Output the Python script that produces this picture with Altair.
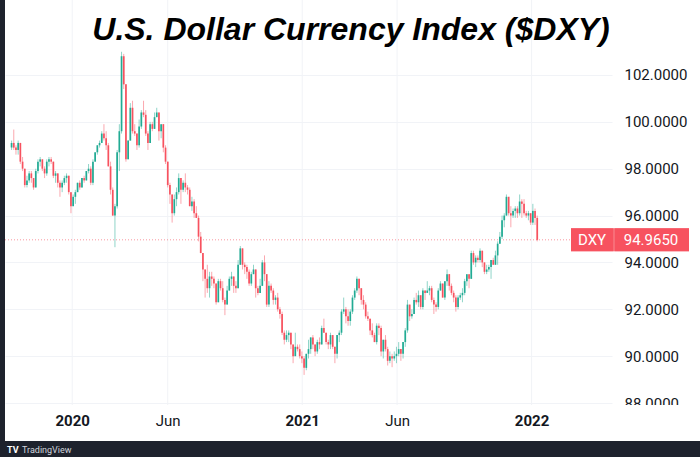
import altair as alt
import pandas as pd

# ---- DXY candles (two bars per week: Mon-Wed, Thu-Fri) ----
OPEN_2019 = [98.9, 99.1, 98.9, 98.8, 99.1, 98.3, 98.0, 97.3, 97.5, 97.8,
             97.6, 97.2, 97.9, 98.3, 98.4, 98.0, 97.8, 98.3, 98.4, 98.3,
             97.7, 97.8, 97.4, 97.2, 97.4, 97.6, 97.7, 97.0]
HIGH_2019 = [99.2, 99.67, 99.0, 99.2, 99.1, 98.5, 98.0, 97.7, 97.9, 97.9,
             97.6, 98.0, 98.4, 98.5, 98.4, 98.1, 98.4, 98.5, 98.5, 98.3,
             97.9, 97.8, 97.5, 97.5, 97.7, 97.8, 97.7, 97.0]
LOW_2019 = [98.8, 98.8, 98.6, 98.6, 98.2, 97.9, 97.2, 97.2, 97.4, 97.4,
            97.1, 97.2, 97.8, 98.1, 97.9, 97.6, 97.7, 98.1, 98.2, 97.6,
            97.4, 97.2, 96.8, 97.0, 97.3, 97.4, 96.9, 96.1]
CLOSE_2019 = [99.1, 98.9, 98.8, 99.1, 98.3, 98.0, 97.3, 97.5, 97.8, 97.6,
              97.2, 97.9, 98.3, 98.4, 98.0, 97.8, 98.3, 98.4, 98.3, 97.7,
              97.8, 97.4, 97.2, 97.4, 97.6, 97.7, 97.0, 96.4]

OPEN_2020 = [96.4, 96.8, 97.0, 97.4, 97.2, 97.6, 97.5, 97.9, 98.0, 97.4,
             98.3, 98.7, 99.0, 99.1, 99.5, 99.3, 99.0, 98.1, 97.1, 96.0,
             96.4, 98.7, 99.6, 102.8, 101.6, 98.4, 99.2, 100.6, 99.6, 99.5,
             99.0, 99.8, 100.4, 100.3, 99.5, 99.1, 99.9, 99.7, 100.2, 100.4,
             99.6, 99.9, 98.9, 98.3, 97.3, 96.9, 96.1, 96.7, 97.0, 97.6,
             97.1, 97.4, 97.2, 97.1, 96.4, 96.6, 96.1, 95.9, 95.1, 94.4,
             93.7, 93.3, 92.9, 93.4, 93.3, 93.1, 92.3, 93.2, 92.9, 92.4,
             92.2, 92.8, 93.3, 93.4, 93.0, 92.9, 93.9, 94.6, 93.9, 93.8,
             93.6, 93.1, 93.5, 93.7, 92.9, 92.7, 93.0, 94.0, 93.5, 92.2,
             93.0, 92.8, 92.4, 92.5, 92.0, 91.8, 91.0, 90.7, 90.9, 91.0,
             90.5, 90.0, 90.4, 90.3, 90.0]
HIGH_2020 = [96.9, 97.1, 97.4, 97.5, 97.6, 97.7, 97.9, 98.2, 98.1, 98.4,
             98.7, 99.0, 99.2, 99.6, 99.9, 99.6, 99.1, 98.3, 97.2, 96.5,
             98.8, 99.9, 102.99, 102.9, 101.6, 99.2, 100.8, 100.9, 99.9, 99.5,
             100.1, 100.5, 100.9, 100.5, 99.6, 100.0, 100.0, 100.4, 100.6, 100.4,
             99.9, 99.9, 99.0, 98.3, 97.4, 96.9, 96.9, 97.2, 97.8, 97.6,
             97.5, 97.8, 97.3, 97.2, 96.8, 96.7, 96.4, 96.0, 95.3, 94.4,
             93.7, 93.9, 93.6, 93.6, 93.4, 93.1, 93.3, 93.3, 93.2, 92.5,
             93.0, 93.4, 93.6, 93.4, 93.2, 94.1, 94.7, 94.6, 94.0, 93.9,
             93.7, 93.6, 93.9, 93.7, 93.0, 93.3, 94.1, 94.3, 93.5, 93.2,
             93.1, 92.9, 92.6, 92.7, 92.1, 91.9, 91.1, 91.1, 91.1, 91.0,
             90.5, 91.0, 90.5, 90.5, 90.2]
LOW_2020 = [96.4, 96.5, 97.0, 97.1, 97.2, 97.4, 97.5, 97.8, 97.3, 97.3,
            98.3, 98.6, 98.9, 99.1, 99.2, 98.8, 98.1, 96.9, 96.0, 94.65,
            96.3, 97.9, 99.5, 101.4, 98.3, 98.4, 99.2, 99.5, 99.4, 98.8,
            98.9, 99.7, 100.2, 99.4, 98.8, 99.1, 99.6, 99.7, 100.2, 99.2,
            99.3, 98.7, 98.2, 97.2, 96.5, 95.7, 96.0, 96.4, 96.9, 96.5,
            97.0, 97.0, 96.9, 96.4, 96.2, 95.9, 95.9, 94.9, 94.4, 93.2,
            92.5, 92.7, 92.5, 93.0, 92.9, 92.2, 92.3, 92.8, 92.3, 91.75,
            92.2, 92.8, 93.0, 92.7, 92.7, 92.9, 93.9, 93.7, 93.5, 93.3,
            93.0, 93.0, 93.5, 92.5, 92.6, 92.7, 93.0, 93.2, 92.1, 92.1,
            92.7, 92.2, 92.2, 91.9, 91.6, 90.9, 90.5, 90.6, 90.6, 90.3,
            89.7, 90.0, 90.2, 89.9, 89.7]
CLOSE_2020 = [96.8, 97.0, 97.4, 97.2, 97.6, 97.5, 97.9, 98.0, 97.4, 98.3,
              98.7, 99.0, 99.1, 99.5, 99.3, 99.0, 98.1, 97.1, 96.0, 96.4,
              98.7, 99.6, 102.8, 101.6, 98.4, 99.2, 100.6, 99.6, 99.5, 99.0,
              99.8, 100.4, 100.3, 99.5, 99.1, 99.9, 99.7, 100.2, 100.4, 99.6,
              99.9, 98.9, 98.3, 97.3, 96.9, 96.1, 96.7, 97.0, 97.6, 97.1,
              97.4, 97.2, 97.1, 96.4, 96.6, 96.1, 95.9, 95.1, 94.4, 93.7,
              93.3, 92.9, 93.4, 93.3, 93.1, 92.3, 93.2, 92.9, 92.4, 92.2,
              92.8, 93.3, 93.4, 93.0, 92.9, 93.9, 94.6, 93.9, 93.8, 93.6,
              93.1, 93.5, 93.7, 92.9, 92.7, 93.0, 94.0, 93.5, 92.2, 93.0,
              92.8, 92.4, 92.5, 92.0, 91.8, 91.0, 90.7, 90.9, 91.0, 90.5,
              90.0, 90.4, 90.3, 90.0, 89.9]

OPEN_2021 = [89.9, 89.5, 90.1, 90.3, 90.8, 90.5, 90.2, 90.6, 90.5, 91.2,
             91.0, 90.6, 90.5, 90.9, 90.4, 90.1, 90.9, 91.0, 91.9, 92.0,
             91.7, 91.5, 91.9, 92.5, 92.8, 93.3, 92.9, 92.4, 92.2, 91.7,
             91.6, 91.1, 90.9, 90.6, 91.3, 91.2, 90.2, 90.7, 90.3, 89.8,
             90.0, 89.9, 90.0, 90.1, 90.3, 90.1, 90.6, 91.1, 92.2, 91.7,
             91.8, 92.4, 92.3, 92.6, 92.1, 92.8, 92.7, 92.8, 92.9, 92.4,
             92.2, 92.1, 92.8, 93.1, 92.5, 93.2, 93.5, 93.0, 92.7, 92.5,
             92.1, 92.5, 92.6, 92.7, 93.2, 93.5, 93.3, 94.4, 94.0, 94.2,
             94.1, 94.5, 94.0, 93.6, 93.7, 93.8, 94.1, 93.9, 94.3, 94.8,
             95.1, 95.8, 96.0, 96.8, 96.1, 96.0, 96.2, 96.3, 96.1, 96.6,
             96.5, 96.1, 96.0, 96.1]
HIGH_2021 = [90.0, 90.1, 90.7, 90.8, 90.9, 90.5, 90.7, 90.8, 91.3, 91.6,
             91.0, 90.7, 91.0, 90.9, 90.4, 90.9, 91.1, 92.0, 92.5, 92.1,
             92.0, 92.0, 92.6, 92.9, 93.4, 93.3, 92.9, 92.6, 92.3, 91.9,
             91.6, 91.4, 91.0, 91.4, 91.4, 91.3, 90.7, 90.9, 90.4, 90.2,
             90.1, 90.2, 90.4, 90.6, 90.3, 90.6, 91.2, 92.4, 92.2, 92.0,
             92.5, 92.7, 92.8, 92.6, 92.9, 92.8, 93.2, 93.0, 93.0, 92.5,
             92.3, 92.9, 93.2, 93.1, 93.2, 93.7, 93.5, 93.1, 92.8, 92.6,
             92.6, 92.7, 92.9, 93.3, 93.5, 93.5, 94.5, 94.5, 94.3, 94.3,
             94.6, 94.5, 94.0, 93.9, 93.9, 94.1, 94.2, 94.5, 94.9, 95.3,
             96.0, 96.1, 96.9, 96.8, 96.4, 96.3, 96.4, 96.4, 96.9, 96.7,
             96.7, 96.2, 96.2, 96.1]
LOW_2021 = [89.2, 89.4, 89.9, 90.1, 90.3, 90.0, 90.1, 90.3, 90.5, 91.0,
            90.5, 90.3, 90.3, 90.3, 89.7, 89.9, 90.6, 90.9, 91.8, 91.4,
            91.3, 91.3, 91.8, 92.4, 92.7, 92.6, 92.2, 92.0, 91.6, 91.5,
            90.9, 90.8, 90.6, 90.5, 90.9, 90.0, 89.9, 90.2, 89.6, 89.7,
            89.53, 89.8, 89.7, 90.0, 89.8, 89.9, 90.4, 91.0, 91.5, 91.6,
            91.8, 92.2, 92.1, 92.0, 92.0, 92.4, 92.7, 92.6, 92.3, 91.8,
            91.9, 92.0, 92.8, 92.5, 92.4, 93.0, 92.8, 92.6, 92.3, 91.9,
            92.0, 92.4, 92.3, 92.6, 93.0, 92.9, 93.3, 93.9, 93.8, 94.0,
            94.0, 93.8, 93.5, 93.5, 93.6, 93.3, 93.9, 93.9, 93.9, 94.8,
            95.0, 95.5, 96.0, 96.0, 95.5, 95.9, 95.9, 95.9, 96.0, 95.9,
            96.0, 95.9, 95.8, 95.6]
CLOSE_2021 = [89.5, 90.1, 90.3, 90.8, 90.5, 90.2, 90.6, 90.5, 91.2, 91.0,
              90.6, 90.5, 90.9, 90.4, 90.1, 90.9, 91.0, 91.9, 92.0, 91.7,
              91.5, 91.9, 92.5, 92.8, 93.3, 92.9, 92.4, 92.2, 91.7, 91.6,
              91.1, 90.9, 90.6, 91.3, 91.2, 90.2, 90.7, 90.3, 89.8, 90.0,
              89.9, 90.0, 90.1, 90.3, 90.1, 90.6, 91.1, 92.2, 91.7, 91.8,
              92.4, 92.3, 92.6, 92.1, 92.8, 92.7, 92.8, 92.9, 92.4, 92.2,
              92.1, 92.8, 93.1, 92.5, 93.2, 93.5, 93.0, 92.7, 92.5, 92.1,
              92.5, 92.6, 92.7, 93.2, 93.5, 93.3, 94.4, 94.0, 94.2, 94.1,
              94.5, 94.0, 93.6, 93.7, 93.8, 94.1, 93.9, 94.3, 94.8, 95.1,
              95.8, 96.0, 96.8, 96.1, 96.0, 96.2, 96.3, 96.1, 96.6, 96.5,
              96.1, 96.0, 96.1, 95.7]

OPEN_2022 = [95.7, 96.2, 95.9]
HIGH_2022 = [96.5, 96.3, 96.0]
LOW_2022 = [95.6, 95.6, 94.9]
CLOSE_2022 = [96.2, 95.9, 94.965]

OPEN = OPEN_2019 + OPEN_2020 + OPEN_2021 + OPEN_2022
HIGH = HIGH_2019 + HIGH_2020 + HIGH_2021 + HIGH_2022
LOW = LOW_2019 + LOW_2020 + LOW_2021 + LOW_2022
CLOSE = CLOSE_2019 + CLOSE_2020 + CLOSE_2021 + CLOSE_2022

Y_TICKS = [88, 90, 92, 94, 96, 98, 100, 102]
X_TICKS = [(2020, 1), (2020, 6), (2021, 1), (2021, 6), (2022, 1)]
TITLE = "U.S. Dollar Currency Index ($DXY)"
SYMBOL = "DXY"

# bar dates: Mondays 00:00 and Thursdays 12:00 (UTC)
mondays = list(pd.date_range("2019-09-30", "2022-01-10", freq="W-MON"))
thursdays = [d + pd.Timedelta(hours=12) for d in pd.date_range("2019-09-26", "2022-01-06", freq="W-THU")]
DATES = sorted(mondays + thursdays)[:len(CLOSE)]

df = pd.DataFrame({
    "date": [d.strftime("%Y-%m-%dT%H:%M:%SZ") for d in DATES],
    "open": OPEN[:len(DATES)], "high": HIGH[:len(DATES)],
    "low": LOW[:len(DATES)], "close": CLOSE[:len(DATES)],
})
df["dir"] = ["up" if c >= o else "down" for o, c in zip(df["open"], df["close"])]

UP, DOWN = "#22ab94", "#f7525f"
W, H = 607, 407
FONT = "Roboto"

x_scale = alt.Scale(type="utc", nice=False,
                    domain=[alt.DateTime(year=2019, month=9, date=24, utc=True),
                            alt.DateTime(year=2022, month=5, date=1, utc=True)])
y_scale = alt.Scale(domain=[87.83, 105.2], nice=False, zero=False)

x_axis = alt.Axis(
    values=[alt.DateTime(year=y, month=m, date=1, utc=True) for y, m in X_TICKS],
    labelExpr="utcmonth(datum.value) == 0 ? utcFormat(datum.value, '%Y') : utcFormat(datum.value, '%b')",
    labelFontWeight={"condition": {"test": "utcmonth(datum.value) == 0", "value": "bold"}, "value": "normal"},
    title=None, ticks=False, domain=False, grid=False, labelFont=FONT, labelFontSize=15,
    labelColor="#131722", labelPadding=6, labelFlush=False, labelOverlap=False, zindex=1)
y_axis = alt.Axis(orient="right", values=Y_TICKS, format=".4f", title=None, ticks=False,
                  tickSize=0, domain=False, grid=True, gridColor="#f1f3f7", labelFont=FONT,
                  labelFontSize=15, labelColor="#131722", labelPadding=12, labelOverlap=False)

color = alt.Color("dir:N", scale=alt.Scale(domain=["up", "down"], range=[UP, DOWN]), legend=None)

vgrid = alt.Chart(pd.DataFrame({"date": [f"{y}-{m:02d}-01T00:00:00Z" for y, m in X_TICKS]})).mark_rule(
    color="#f1f3f7", strokeWidth=1).encode(
    x=alt.X("date:T", scale=x_scale, axis=x_axis), y=alt.value(0), y2=alt.value(H))

wicks = alt.Chart(df).mark_rule(strokeWidth=1, opacity=0.5).encode(
    x=alt.X("date:T", scale=x_scale, axis=x_axis),
    y=alt.Y("low:Q", scale=y_scale, axis=y_axis), y2="high:Q", color=color)

bodies = alt.Chart(df).mark_bar(width=1.7).encode(
    x=alt.X("date:T", scale=x_scale, axis=x_axis),
    y=alt.Y("open:Q", scale=y_scale, axis=y_axis), y2="close:Q", color=color)

last = pd.DataFrame({"v": [CLOSE[-1]], "sym": [SYMBOL]})
last_y = alt.Y("v:Q", scale=y_scale, axis=y_axis)

price_line = alt.Chart(last).mark_rule(color=DOWN, strokeDash=[1, 2], opacity=0.6, strokeWidth=1).encode(
    y=last_y, x=alt.value(0), x2=alt.value(W))

box_bg = alt.Chart(last).mark_rule(color="#f98a93", strokeWidth=23, strokeCap="butt").encode(
    y=last_y, x=alt.value(566), x2=alt.value(684))
box_l = alt.Chart(last).mark_rule(color=DOWN, strokeWidth=23, strokeCap="butt").encode(
    y=last_y, x=alt.value(566), x2=alt.value(608.5))
box_r = alt.Chart(last).mark_rule(color=DOWN, strokeWidth=23, strokeCap="butt").encode(
    y=last_y, x=alt.value(609.5), x2=alt.value(684))
box_sym = alt.Chart(last).mark_text(font=FONT, fontSize=15, color="white", align="center",
                                    baseline="middle").encode(
    y=last_y, x=alt.value(587), text="sym:N")
box_val = alt.Chart(last).mark_text(font=FONT, fontSize=15, color="white", align="center",
                                    baseline="middle").encode(
    y=last_y, x=alt.value(646), text=alt.Text("v:Q", format=".4f"))

one = pd.DataFrame({"t": [TITLE]})
cover = alt.Chart(one).mark_rect(color="white").encode(
    x=alt.value(0), x2=alt.value(695), y=alt.value(405), y2=alt.value(441))
title = alt.Chart(one).mark_text(
    font="Liberation Sans", fontSize=32,
    fontWeight="bold", fontStyle="italic", color="#000000", align="center",
    baseline="alphabetic").encode(x=alt.value(346), y=alt.value(40), text="t:N")

DARK = "#1e222d"
left_strip = alt.Chart(one).mark_rect(color=DARK).encode(
    x=alt.value(-5), x2=alt.value(0), y=alt.value(0), y2=alt.value(457))
bottom_strip = alt.Chart(one).mark_rect(color=DARK).encode(
    x=alt.value(-5), x2=alt.value(695), y=alt.value(441), y2=alt.value(457))
logo = alt.Chart(pd.DataFrame({"t": ["TV"]})).mark_text(
    font=FONT, fontSize=9, fontWeight="bold", color="white", align="left", baseline="middle").encode(
    x=alt.value(2), y=alt.value(450), text="t:N")
brand = alt.Chart(pd.DataFrame({"t": ["TradingView"]})).mark_text(
    font=FONT, fontSize=9, color="#d1d4dc", align="left", baseline="middle").encode(
    x=alt.value(17), y=alt.value(450), text="t:N")

chart = alt.layer(
    vgrid, price_line, wicks, bodies, cover, box_bg, box_l, box_r, box_sym, box_val,
    title, left_strip, bottom_strip, logo, brand
).properties(
    width=W, height=H,
    padding={"left": 5, "top": 0, "right": 88, "bottom": 50},
    autosize=alt.AutoSizeParams(type="none"),
    background="white",
).configure_view(stroke=None)

chart.save("out.html", embed_options={"renderer": "svg", "actions": False})
